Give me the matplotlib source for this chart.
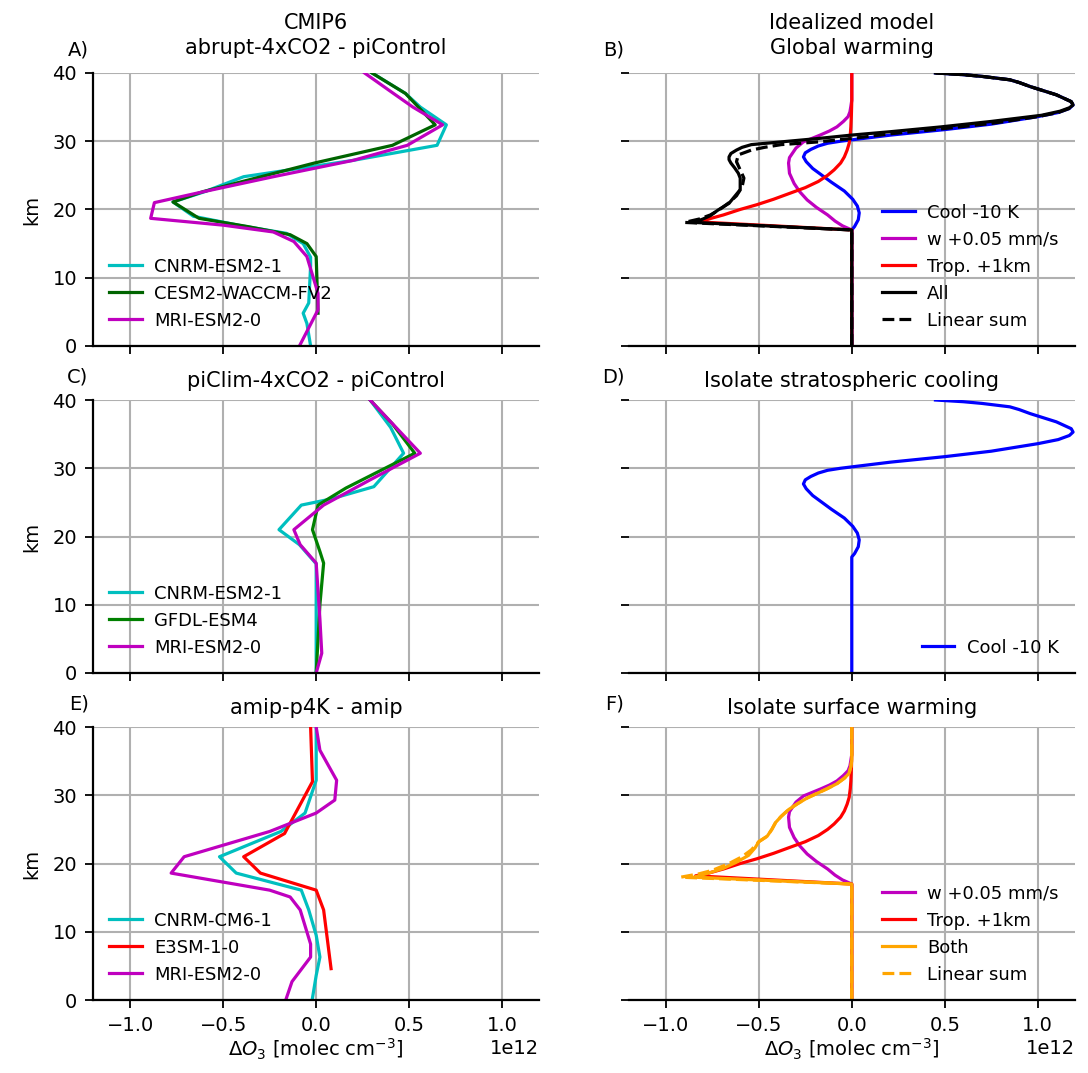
import matplotlib
matplotlib.use('Agg')
import matplotlib.pyplot as plt
import numpy as np

# ---- CMIP6 profiles (x in 1e12 molec cm-3, z in km) ----
# A) abrupt-4xCO2 - piControl
a_cnrm_z = [0, 3.3, 4.8, 6.3, 11.7, 13.0, 15.0, 16.5, 17.6, 19.0, 21.1, 22.6, 24.8, 27.2, 29.4, 32.4, 35.0, 37.0, 40.0]
a_cnrm_x = [-0.03, -0.05, -0.07, -0.04, -0.03, -0.03, -0.07, -0.16, -0.40, -0.66, -0.77, -0.60, -0.39, 0.20, 0.65, 0.70, 0.56, 0.48, 0.30]
a_cesm_z = [4.8, 13.1, 15.0, 16.3, 17.5, 18.7, 21.1, 22.6, 26.8, 29.4, 32.4, 37.0, 40.0]
a_cesm_x = [0.01, 0.0, -0.05, -0.14, -0.37, -0.63, -0.77, -0.61, -0.01, 0.41, 0.64, 0.48, 0.30]
a_mri_z = [0, 5.3, 7.7, 13.1, 15.3, 16.7, 17.7, 18.7, 21.0, 22.4, 24.8, 27.2, 29.4, 32.4, 35.0, 37.3, 40.0]
a_mri_x = [-0.09, 0.01, 0.01, -0.05, -0.12, -0.23, -0.50, -0.89, -0.87, -0.64, -0.23, 0.20, 0.49, 0.68, 0.52, 0.40, 0.26]

# C) piClim-4xCO2 - piControl
c_cnrm_z = [0, 5.0, 10.0, 16.0, 18.8, 21.0, 24.6, 25.5, 27.3, 32.2, 36.0, 40.0]
c_cnrm_x = [0.0, 0.0, 0.0, 0.0, -0.09, -0.20, -0.08, 0.08, 0.31, 0.47, 0.40, 0.29]
c_gfdl_z = [0, 5.0, 10.0, 16.1, 17.8, 21.0, 24.6, 27.1, 32.2, 36.5, 40.0]
c_gfdl_x = [0.0, 0.01, 0.02, 0.04, 0.02, -0.02, 0.01, 0.16, 0.53, 0.41, 0.29]
c_mri_z = [0, 2.9, 7.9, 16.1, 18.8, 21.0, 24.6, 28.3, 32.2, 40.0]
c_mri_x = [0.0, 0.03, 0.02, 0.0, -0.086, -0.12, 0.04, 0.29, 0.56, 0.29]

# E) amip-p4K - amip
e_cnrm_z = [0.3, 3.6, 6.3, 9.5, 13.2, 16.1, 18.6, 21.0, 24.7, 27.4, 32.2, 40.0]
e_cnrm_x = [-0.02, 0.0, 0.02, 0.0, -0.04, -0.08, -0.43, -0.52, -0.19, -0.06, 0.0, 0.0]
e_e3sm_z = [4.6, 13.2, 16.1, 18.6, 21.0, 24.4, 32.0, 40.0]
e_e3sm_x = [0.08, 0.04, 0.0, -0.30, -0.39, -0.17, -0.02, -0.03]
e_mri_z = [0.3, 2.7, 6.3, 8.2, 13.2, 15.1, 16.1, 18.6, 21.0, 24.7, 27.4, 29.3, 32.2, 36.6, 40.0]
e_mri_x = [-0.16, -0.13, -0.03, -0.03, -0.086, -0.14, -0.25, -0.78, -0.71, -0.25, 0.0, 0.10, 0.11, 0.02, 0.0]

# ---- Idealized model ----
cool_z = [0, 17.0, 17.5, 18.5, 19.5, 20.5, 21.5, 22.7, 24.0, 25.0, 26.0, 27.0, 27.7, 28.3, 28.8, 29.3,
          29.7, 30.0, 30.2, 30.9, 31.7, 32.5, 33.6, 34.2, 34.8, 35.3, 35.8, 36.3, 36.8, 37.4, 38.0, 38.6,
          39.0, 39.5, 39.75, 40.0]
cool_x = [0, 0, 0.015, 0.035, 0.04, 0.03, 0.005, -0.04, -0.11, -0.16, -0.21, -0.245, -0.26, -0.25, -0.22, -0.18,
          -0.13, -0.06, 0.0, 0.21, 0.5, 0.75, 1.0, 1.11, 1.17, 1.19, 1.18, 1.14, 1.10, 1.03, 0.96, 0.90,
          0.85, 0.70, 0.60, 0.45]
w_z = [0, 17.0, 17.6, 18.3, 19.2, 20.3, 21.4, 22.6, 23.8, 25.3, 26.8, 27.6, 28.2, 29.0, 29.9, 30.9,
       31.5, 32.1, 32.9, 33.6, 34.3, 35.1, 36.0, 40.0]
w_x = [0, 0, -0.05, -0.09, -0.13, -0.19, -0.24, -0.28, -0.31, -0.335, -0.34, -0.335, -0.32, -0.30, -0.26, -0.17,
       -0.12, -0.08, -0.045, -0.02, -0.01, -0.005, 0, 0]
trop_z = [0, 17.0, 18.2, 18.6, 19.2, 20.0, 20.7, 21.5, 22.4, 23.2, 24.1, 25.0, 25.8, 26.8, 27.7, 28.7,
          29.7, 31.0, 32.1, 34.0, 36.0, 40.0]
trop_x = [0, 0, -0.84, -0.77, -0.69, -0.60, -0.51, -0.42, -0.33, -0.25, -0.18, -0.13, -0.095, -0.06, -0.04, -0.025,
          -0.014, -0.008, -0.005, -0.002, 0, 0]
all_z = [0, 17.0, 18.1, 18.6, 19.1, 19.9, 20.9, 21.9, 22.9, 23.8, 24.6, 25.3, 26.1, 26.8, 27.3, 27.7,
         28.2, 28.7, 29.1, 29.5, 29.9, 30.4, 30.9, 31.4, 32.1, 32.9, 33.8, 34.4, 34.9, 35.3, 35.8, 36.3,
         36.8, 37.4, 38.0, 38.6, 39.0, 39.5, 39.75, 40.0]
all_x = [0, 0, -0.85, -0.80, -0.76, -0.72, -0.66, -0.63, -0.60, -0.60, -0.60, -0.61, -0.63, -0.65, -0.66, -0.66,
         -0.65, -0.62, -0.59, -0.54, -0.38, -0.18, 0.0, 0.21, 0.48, 0.75, 1.02, 1.12, 1.17, 1.19, 1.18, 1.14,
         1.10, 1.03, 0.96, 0.90, 0.85, 0.70, 0.60, 0.45]
lin_z = [0, 17.0, 18.1, 18.6, 19.2, 20.0, 21.0, 22.0, 23.3, 24.6, 25.8, 27.0, 28.0, 28.7, 29.1, 29.5,
         29.9, 30.4, 31.1, 31.8, 32.6, 33.6, 34.2, 34.8, 35.3, 35.8, 36.3, 36.8, 37.4, 38.0, 38.6, 39.0,
         39.5, 39.75, 40.0]
lin_x = [0, 0, -0.90, -0.82, -0.76, -0.71, -0.66, -0.62, -0.59, -0.58, -0.60, -0.62, -0.61, -0.54, -0.47, -0.38,
         -0.18, 0.0, 0.21, 0.48, 0.75, 1.0, 1.11, 1.17, 1.19, 1.18, 1.14, 1.10, 1.03, 0.96, 0.90, 0.85,
         0.70, 0.60, 0.45]
both_z = [0, 17.0, 18.0, 18.6, 19.3, 20.2, 21.2, 22.3, 23.2, 24.0, 25.0, 26.0, 26.9, 27.9, 28.8, 29.6,
          30.3, 31.0, 31.7, 32.5, 33.2, 34.2, 35.2, 40.0]
both_x = [0, 0, -0.85, -0.77, -0.69, -0.62, -0.555, -0.52, -0.50, -0.455, -0.43, -0.41, -0.38, -0.34, -0.29, -0.24,
          -0.185, -0.13, -0.08, -0.04, -0.015, -0.005, 0, 0]
linF_z = [0, 17.0, 18.0, 18.5, 19.0, 20.0, 21.0, 22.0, 23.2, 24.0, 25.0, 26.0, 26.9, 27.9, 28.8, 29.6,
          30.3, 31.0, 31.7, 32.5, 33.2, 34.2, 35.2, 40.0]
linF_x = [0, 0, -0.92, -0.82, -0.75, -0.66, -0.59, -0.54, -0.50, -0.455, -0.43, -0.41, -0.38, -0.34, -0.29, -0.24,
          -0.185, -0.13, -0.08, -0.04, -0.015, -0.005, 0, 0]

S = 1e12
LW = 2.3
plt.rcParams['font.size'] = 14
plt.rcParams['xtick.major.size'] = 5.5
plt.rcParams['ytick.major.size'] = 5.5
plt.rcParams['xtick.major.width'] = 1.3
plt.rcParams['ytick.major.width'] = 1.3
plt.rcParams['xtick.major.pad'] = 6
plt.rcParams['ytick.major.pad'] = 6

fig, axes = plt.subplots(3, 2, figsize=(10.88, 10.73), dpi=100, sharex=True, sharey=True)
fig.subplots_adjust(left=0.0855, right=0.988, bottom=0.068, top=0.932, wspace=0.2, hspace=0.198)


def prof(ax, x, z, **kw):
    ax.plot(np.array(x) * S, z, lw=LW, **kw)


def title2(ax, s):
    ax.set_title(s, fontsize=15, pad=13.5, linespacing=1.35)


def title1(ax, s):
    ax.set_title(s, fontsize=15, pad=9.5)


ax = axes[0, 0]
prof(ax, a_cnrm_x, a_cnrm_z, color='c', label='CNRM-ESM2-1')
prof(ax, a_cesm_x, a_cesm_z, color='darkgreen', label='CESM2-WACCM-FV2')
prof(ax, a_mri_x, a_mri_z, color='m', label='MRI-ESM2-0')
title2(ax, 'CMIP6\nabrupt-4xCO2 - piControl')

ax = axes[1, 0]
prof(ax, c_cnrm_x, c_cnrm_z, color='c', label='CNRM-ESM2-1')
prof(ax, c_gfdl_x, c_gfdl_z, color='g', label='GFDL-ESM4')
prof(ax, c_mri_x, c_mri_z, color='m', label='MRI-ESM2-0')
title1(ax, 'piClim-4xCO2 - piControl')

ax = axes[2, 0]
prof(ax, e_cnrm_x, e_cnrm_z, color='c', label='CNRM-CM6-1')
prof(ax, e_e3sm_x, e_e3sm_z, color='r', label='E3SM-1-0')
prof(ax, e_mri_x, e_mri_z, color='m', label='MRI-ESM2-0')
title1(ax, 'amip-p4K - amip')

ax = axes[0, 1]
prof(ax, cool_x, cool_z, color='b', label='Cool -10 K')
prof(ax, w_x, w_z, color='m', label='w +0.05 mm/s')
prof(ax, trop_x, trop_z, color='r', label='Trop. +1km')
prof(ax, all_x, all_z, color='k', label='All')
prof(ax, lin_x, lin_z, color='k', ls='--', label='Linear sum')
title2(ax, 'Idealized model\nGlobal warming')

ax = axes[1, 1]
prof(ax, cool_x, cool_z, color='b', label='Cool -10 K')
title1(ax, 'Isolate stratospheric cooling')

ax = axes[2, 1]
prof(ax, w_x, w_z, color='m', label='w +0.05 mm/s')
prof(ax, trop_x, trop_z, color='r', label='Trop. +1km')
prof(ax, both_x, both_z, color='orange', label='Both')
prof(ax, linF_x, linF_z, color='orange', ls='--', label='Linear sum')
title1(ax, 'Isolate surface warming')

labels = ['A)', 'B)', 'C)', 'D)', 'E)', 'F)']
for i, ax in enumerate(axes.flat):
    ax.set_xlim(-1.2 * S, 1.2 * S)
    ax.set_ylim(0, 40)
    ax.set_yticks([0, 10, 20, 30, 40])
    ax.grid(True, color='#b0b0b0', lw=1.5)
    ax.spines['top'].set_visible(False)
    ax.spines['right'].set_visible(False)
    ax.spines['bottom'].set_linewidth(1.6)
    ax.spines['left'].set_linewidth(1.6)
    ax.text(-0.01, 1.065, labels[i], transform=ax.transAxes, ha='right', va='baseline', fontsize=14)
    leg_kw = dict(frameon=False, fontsize=13, labelspacing=0.5, handlelength=1.8, handletextpad=0.7)
    if i % 2 == 0:
        ax.set_ylabel('km', labelpad=8)
        ax.legend(loc='lower left', **leg_kw)
    else:
        ax.spines['left'].set_visible(False)
        ax.legend(loc='lower right', **leg_kw)

for ax in axes[2]:
    ax.set_xlabel(r'$\Delta O_3$ [molec cm$^{-3}$]', labelpad=1)

fig.savefig('out.png', dpi=100)
